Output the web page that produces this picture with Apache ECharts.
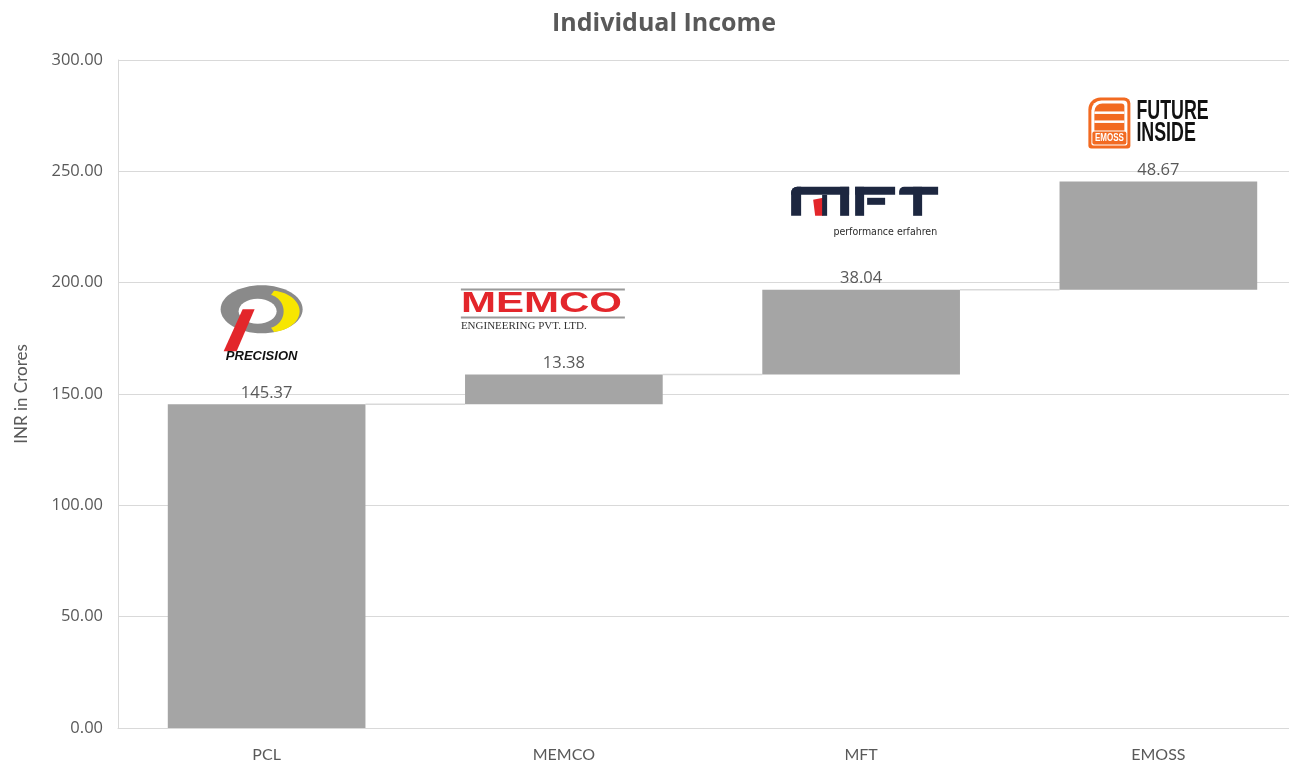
<!DOCTYPE html>
<html>
<head>
<meta charset="utf-8">
<script src="https://cdn.jsdelivr.net/npm/echarts@6/dist/echarts.min.js"></script>
<style>
html,body{margin:0;padding:0;background:#fff;}
#chart{width:1289px;height:768px;}
</style>
</head>
<body>
<div id="chart"></div>
<script>
// ---- data ----
const categories = ['PCL', 'MEMCO', 'MFT', 'EMOSS'];
const increments = [145.37, 13.38, 38.04, 48.67];
const yTicks = [0, 50, 100, 150, 200, 250, 300];

const bases = [];
const tops = [];
let run = 0;
increments.forEach(function (v) { bases.push(run); run += v; tops.push(run); });

const FONT = 'Lato, "Open Sans", sans-serif';
const FONT2 = '"Open Sans", Lato, sans-serif';
const TXT = '#595959';
const GRIDC = '#d9d9d9';
const BAR = '#a5a5a5';
const GAP = 0.335;

const chart = echarts.init(document.getElementById('chart'));

const option = {
  animation: false,
  backgroundColor: '#fff',
  title: {
    text: 'Individual Income',
    left: 659,
    textAlign: 'center',
    top: 6,
    textStyle: { fontFamily: FONT2, fontSize: 25, fontWeight: 'bold', color: TXT }
  },
  grid: { left: 118, width: 1189, top: 60, height: 668, containLabel: false, outerBoundsMode: 'none' },
  xAxis: {
    type: 'category',
    data: categories,
    axisLine: { show: true, lineStyle: { color: GRIDC, width: 1 } },
    axisTick: { show: false },
    axisLabel: { color: TXT, fontFamily: FONT, fontSize: 16, margin: 19 },
    splitLine: { show: false }
  },
  yAxis: {
    type: 'value',
    min: yTicks[0],
    max: yTicks[yTicks.length - 1],
    interval: yTicks[1] - yTicks[0],
    name: 'INR in Crores',
    nameLocation: 'middle',
    nameGap: 88,
    nameTextStyle: { color: TXT, fontFamily: FONT, fontSize: 17 },
    axisLine: { show: true, lineStyle: { color: GRIDC, width: 1 } },
    axisTick: { show: false },
    axisLabel: {
      color: TXT, fontFamily: FONT2, fontSize: 16.5, margin: 15,
      formatter: function (v) { return v.toFixed(2); }
    },
    splitLine: { show: true, lineStyle: { color: GRIDC, width: 1 } }
  },
  series: [
    {
      name: 'base',
      type: 'bar',
      stack: 'wf',
      data: bases,
      itemStyle: { color: 'transparent' },
      barCategoryGap: (GAP * 100) + '%',
      silent: true
    },
    {
      name: 'value',
      type: 'bar',
      stack: 'wf',
      data: increments,
      itemStyle: { color: BAR },
      barCategoryGap: (GAP * 100) + '%',
      label: {
        show: true,
        position: 'top',
        distance: 3,
        color: TXT,
        fontFamily: FONT2,
        fontSize: 16.5,
        formatter: function (p) { return p.value.toFixed(2); }
      }
    },
    {
      name: 'connectors',
      type: 'custom',
      data: tops.slice(0, tops.length - 1).map(function (v, i) { return [i, v]; }),
      renderItem: function (params, api) {
        const i = api.value(0);
        const v = api.value(1);
        const p = api.coord([i, v]);
        const band = api.size([1, 0])[0];
        const half = band * (1 - GAP) / 2;
        return {
          type: 'line',
          shape: { x1: p[0] + half, y1: p[1], x2: p[0] + band - half, y2: p[1] },
          style: { stroke: GRIDC, lineWidth: 1.5 },
          z: 1
        };
      },
      silent: true,
      z: 1
    }
  ]
};
chart.setOption(option);

// ---- logos (decorations anchored to each bar's top) ----
function ellipsePts(cx, cy, rx, ry, a0, a1, n) {
  const pts = [];
  for (let k = 0; k <= n; k++) {
    const a = (a0 + (a1 - a0) * k / n) * Math.PI / 180;
    pts.push([cx + rx * Math.cos(a), cy + ry * Math.sin(a)]);
  }
  return pts;
}
function anchored(catIdx, refX, refY, children) {
  const p = chart.convertToPixel({ gridIndex: 0 }, [catIdx, tops[catIdx]]);
  return { type: 'group', x: p[0] - refX, y: p[1] - refY, children: children };
}

// PCL (Precision) logo, ref anchor (266, 404)
const crescent = ellipsePts(268, 311, 31, 21, -80, 80, 30)
  .concat(ellipsePts(266, 311, 17, 17, 75, -75, 30));
const pcl = anchored(0, 266, 404, [
  { type: 'ellipse', shape: { cx: 261, cy: 309, rx: 41, ry: 24 }, style: { fill: '#8a8a8a' } },
  { type: 'ellipse', shape: { cx: 257, cy: 311, rx: 19, ry: 12.5 }, style: { fill: '#fff' } },
  { type: 'polygon', shape: { points: crescent }, style: { fill: '#f7e600' } },
  { type: 'polygon', shape: { points: [[242, 309], [254, 309], [236, 351], [223, 351]] }, style: { fill: '#e3262b' } },
  { type: 'text', x: 261, y: 356, style: { text: 'PRECISION', fill: '#111', font: 'italic bold 13px "Liberation Sans", Arial, sans-serif', align: 'center', verticalAlign: 'middle' } }
]);

// MEMCO logo, ref anchor (564, 374)
const memco = anchored(1, 564, 374, [
  { type: 'rect', shape: { x: 461, y: 288, width: 164, height: 2 }, style: { fill: '#9a9a9a' } },
  { type: 'text', x: 461, y: 303, scaleX: 1.45, style: { text: 'MEMCO', fill: '#e3262b', font: 'bold 29px "Liberation Sans", Arial, sans-serif', align: 'left', verticalAlign: 'middle' } },
  { type: 'rect', shape: { x: 461, y: 316, width: 164, height: 2 }, style: { fill: '#9a9a9a' } },
  { type: 'text', x: 461, y: 326, style: { text: 'ENGINEERING PVT. LTD.', fill: '#333', font: '11px "Liberation Serif", "DejaVu Serif", serif', align: 'left', verticalAlign: 'middle' } }
]);

// MFT logo, ref anchor (861, 290)
const NAVY = '#1d2740';
const mft = anchored(2, 861, 290, [
  // M
  { type: 'rect', shape: { x: 791, y: 187, width: 58, height: 8, r: [6, 0, 0, 0] }, style: { fill: NAVY } },
  { type: 'rect', shape: { x: 791, y: 187, width: 10, height: 29, r: [6, 0, 0, 0] }, style: { fill: NAVY } },
  { type: 'polygon', shape: { points: [[813, 200], [823, 198], [823, 216], [815, 216]] }, style: { fill: '#e3262b' } },
  { type: 'rect', shape: { x: 822, y: 195, width: 5, height: 21 }, style: { fill: NAVY } },
  { type: 'rect', shape: { x: 840, y: 187, width: 9, height: 29 }, style: { fill: NAVY } },
  // F
  { type: 'rect', shape: { x: 855, y: 187, width: 40, height: 8 }, style: { fill: NAVY } },
  { type: 'rect', shape: { x: 855, y: 187, width: 9, height: 29 }, style: { fill: NAVY } },
  { type: 'rect', shape: { x: 867, y: 198, width: 18, height: 7 }, style: { fill: NAVY } },
  // T
  { type: 'rect', shape: { x: 899, y: 187, width: 39, height: 8, r: [5, 0, 0, 0] }, style: { fill: NAVY } },
  { type: 'rect', shape: { x: 913, y: 187, width: 9, height: 29 }, style: { fill: NAVY } },
  { type: 'text', x: 937, y: 232, style: { text: 'performance erfahren', fill: '#2b2b2b', font: '10.5px "DejaVu Sans Condensed", "Liberation Sans Narrow", sans-serif', align: 'right', verticalAlign: 'middle' } }
]);

// EMOSS logo, ref anchor (1158, 181)
const OR = '#f26a21';
const emoss = anchored(3, 1158, 181, [
  { type: 'rect', shape: { x: 1088, y: 97, width: 42, height: 51, r: [12, 6, 3, 3] }, style: { fill: OR } },
  { type: 'rect', shape: { x: 1091, y: 100, width: 36, height: 45, r: [10, 4, 2, 2] }, style: { fill: '#fff' } },
  { type: 'rect', shape: { x: 1094, y: 103, width: 30, height: 27, r: [8, 3, 0, 0] }, style: { fill: OR } },
  { type: 'rect', shape: { x: 1094, y: 111, width: 30, height: 2.5 }, style: { fill: '#fff' } },
  { type: 'rect', shape: { x: 1094, y: 120, width: 30, height: 2.5 }, style: { fill: '#fff' } },
  { type: 'rect', shape: { x: 1092, y: 131, width: 34, height: 13, r: 2 }, style: { fill: OR } },
  { type: 'text', x: 1109, y: 138, scaleX: 0.8, style: { text: 'EMOSS', fill: '#fff', font: 'bold 10px "Liberation Sans", Arial, sans-serif', align: 'center', verticalAlign: 'middle' } },
  { type: 'text', x: 1136, y: 111, scaleX: 0.66, style: { text: 'FUTURE', fill: '#111', font: 'bold 27px "Liberation Sans", Arial, sans-serif', align: 'left', verticalAlign: 'middle' } },
  { type: 'text', x: 1136, y: 133, scaleX: 0.66, style: { text: 'INSIDE', fill: '#111', font: 'bold 27px "Liberation Sans", Arial, sans-serif', align: 'left', verticalAlign: 'middle' } }
]);

chart.setOption({ graphic: { elements: [pcl, memco, mft, emoss] } });
</script>
</body>
</html>
